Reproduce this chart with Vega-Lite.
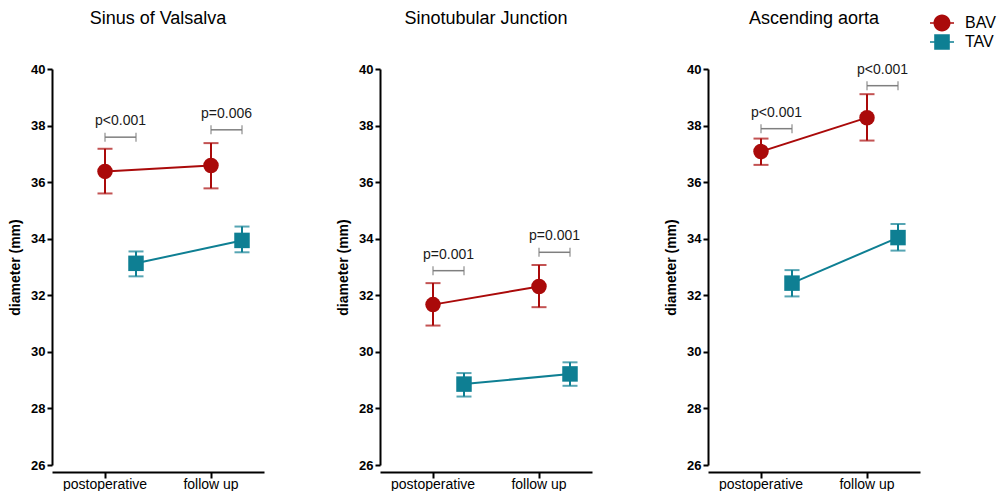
{
  "$schema": "https://vega.github.io/schema/vega-lite/v6.json",
  "background": "white",
  "padding": {"left": 8, "top": 10, "right": 5, "bottom": 0},
  "data": {"values": [
    {"panel": "Sinus of Valsalva", "kind": "stat", "time": "postoperative", "group": "BAV", "mean": 36.38, "lo": 35.6, "hi": 37.18},
    {"panel": "Sinus of Valsalva", "kind": "stat", "time": "follow up", "group": "BAV", "mean": 36.59, "lo": 35.78, "hi": 37.38},
    {"panel": "Sinus of Valsalva", "kind": "stat", "time": "postoperative", "group": "TAV", "mean": 33.13, "lo": 32.67, "hi": 33.55},
    {"panel": "Sinus of Valsalva", "kind": "stat", "time": "follow up", "group": "TAV", "mean": 33.94, "lo": 33.52, "hi": 34.43},
    {"panel": "Sinus of Valsalva", "kind": "bracket", "cmp": "a", "time": "postoperative", "group": "BAV", "y": 37.59},
    {"panel": "Sinus of Valsalva", "kind": "bracket", "cmp": "a", "time": "postoperative", "group": "TAV", "y": 37.59},
    {"panel": "Sinus of Valsalva", "kind": "bracket", "cmp": "b", "time": "follow up", "group": "BAV", "y": 37.85},
    {"panel": "Sinus of Valsalva", "kind": "bracket", "cmp": "b", "time": "follow up", "group": "TAV", "y": 37.85},
    {"panel": "Sinus of Valsalva", "kind": "label", "time": "postoperative", "group": "mid", "y": 37.59, "label": "p<0.001"},
    {"panel": "Sinus of Valsalva", "kind": "label", "time": "follow up", "group": "mid", "y": 37.85, "label": "p=0.006"},

    {"panel": "Sinotubular Junction", "kind": "stat", "time": "postoperative", "group": "BAV", "mean": 31.67, "lo": 30.93, "hi": 32.43},
    {"panel": "Sinotubular Junction", "kind": "stat", "time": "follow up", "group": "BAV", "mean": 32.31, "lo": 31.58, "hi": 33.07},
    {"panel": "Sinotubular Junction", "kind": "stat", "time": "postoperative", "group": "TAV", "mean": 28.86, "lo": 28.42, "hi": 29.25},
    {"panel": "Sinotubular Junction", "kind": "stat", "time": "follow up", "group": "TAV", "mean": 29.22, "lo": 28.8, "hi": 29.63},
    {"panel": "Sinotubular Junction", "kind": "bracket", "cmp": "a", "time": "postoperative", "group": "BAV", "y": 32.87},
    {"panel": "Sinotubular Junction", "kind": "bracket", "cmp": "a", "time": "postoperative", "group": "TAV", "y": 32.87},
    {"panel": "Sinotubular Junction", "kind": "bracket", "cmp": "b", "time": "follow up", "group": "BAV", "y": 33.52},
    {"panel": "Sinotubular Junction", "kind": "bracket", "cmp": "b", "time": "follow up", "group": "TAV", "y": 33.52},
    {"panel": "Sinotubular Junction", "kind": "label", "time": "postoperative", "group": "mid", "y": 32.87, "label": "p=0.001"},
    {"panel": "Sinotubular Junction", "kind": "label", "time": "follow up", "group": "mid", "y": 33.52, "label": "p=0.001"},

    {"panel": "Ascending aorta", "kind": "stat", "time": "postoperative", "group": "BAV", "mean": 37.08, "lo": 36.61, "hi": 37.54},
    {"panel": "Ascending aorta", "kind": "stat", "time": "follow up", "group": "BAV", "mean": 38.28, "lo": 37.47, "hi": 39.11},
    {"panel": "Ascending aorta", "kind": "stat", "time": "postoperative", "group": "TAV", "mean": 32.43, "lo": 31.96, "hi": 32.89},
    {"panel": "Ascending aorta", "kind": "stat", "time": "follow up", "group": "TAV", "mean": 34.04, "lo": 33.58, "hi": 34.52},
    {"panel": "Ascending aorta", "kind": "bracket", "cmp": "a", "time": "postoperative", "group": "BAV", "y": 37.89},
    {"panel": "Ascending aorta", "kind": "bracket", "cmp": "a", "time": "postoperative", "group": "TAV", "y": 37.89},
    {"panel": "Ascending aorta", "kind": "bracket", "cmp": "b", "time": "follow up", "group": "BAV", "y": 39.41},
    {"panel": "Ascending aorta", "kind": "bracket", "cmp": "b", "time": "follow up", "group": "TAV", "y": 39.41},
    {"panel": "Ascending aorta", "kind": "label", "time": "postoperative", "group": "mid", "y": 37.89, "label": "p<0.001"},
    {"panel": "Ascending aorta", "kind": "label", "time": "follow up", "group": "mid", "y": 39.41, "label": "p<0.001"}
  ]},
  "facet": {
    "column": {
      "field": "panel", "type": "nominal",
      "sort": ["Sinus of Valsalva", "Sinotubular Junction", "Ascending aorta"],
      "title": null,
      "header": {"labelFontSize": 18, "labelFont": "Liberation Sans", "labelColor": "black", "labelPadding": 34}
    }
  },
  "spacing": 72,
  "resolve": {"scale": {"y": "independent"}},
  "spec": {
    "width": 212,
    "height": 396,
    "encoding": {
      "x": {"field": "time", "type": "nominal", "sort": ["postoperative", "follow up"],
        "scale": {"paddingInner": 0, "paddingOuter": 0},
        "axis": {"title": null, "labelAngle": 0, "labelFontSize": 14, "tickSize": 6, "labelPadding": -1}},
      "xOffset": {"field": "group", "type": "nominal",
        "scale": {"type": "point", "domain": ["BAV", "mid", "TAV"], "range": [53, 84], "padding": 0}},
      "color": {"field": "group", "type": "nominal", "scale": {"domain": ["BAV", "TAV"], "range": ["#aa0a0a", "#0e7f93"]},
        "legend": {"orient": "none", "legendX": 880, "legendY": -56}}
    },
    "layer": [
      {
        "transform": [{"filter": "datum.kind === 'bracket'"}],
        "mark": {"type": "line", "color": "#7f7f7f", "strokeWidth": 1.5},
        "encoding": {
          "y": {"field": "y", "type": "quantitative", "scale": {"domain": [26, 40]}, "title": "diameter (mm)", "axis": {"values": [26, 28, 30, 32, 34, 36, 38, 40]}},
          "color": {"value": "#7f7f7f"},
          "detail": {"field": "cmp"}
        }
      },
      {
        "transform": [{"filter": "datum.kind === 'bracket'"}],
        "mark": {"type": "tick", "orient": "vertical", "size": 9, "thickness": 1.5},
        "encoding": {
          "y": {"field": "y", "type": "quantitative", "scale": {"domain": [26, 40]}, "title": "diameter (mm)", "axis": {"values": [26, 28, 30, 32, 34, 36, 38, 40]}},
          "color": {"value": "#7f7f7f"}
        }
      },
      {
        "transform": [{"filter": "datum.kind === 'label'"}],
        "mark": {"type": "text", "fontSize": 14, "font": "Liberation Sans", "baseline": "middle", "dy": -16},
        "encoding": {
          "y": {"field": "y", "type": "quantitative", "scale": {"domain": [26, 40]}, "title": "diameter (mm)", "axis": {"values": [26, 28, 30, 32, 34, 36, 38, 40]}},
          "color": {"value": "#1a1a1a"},
          "text": {"field": "label"}
        }
      },
      {
        "transform": [{"filter": "datum.kind === 'stat'"}],
        "mark": {"type": "rule", "strokeWidth": 2},
        "encoding": {
          "y": {"field": "lo", "type": "quantitative", "scale": {"domain": [26, 40]}, "title": "diameter (mm)", "axis": {"values": [26, 28, 30, 32, 34, 36, 38, 40]}},
          "y2": {"field": "hi"}
        }
      },
      {
        "transform": [{"filter": "datum.kind === 'stat'"}],
        "mark": {"type": "tick", "orient": "horizontal", "size": 15, "thickness": 2},
        "encoding": {
          "y": {"field": "lo", "type": "quantitative", "scale": {"domain": [26, 40]}, "title": "diameter (mm)", "axis": {"values": [26, 28, 30, 32, 34, 36, 38, 40]}}
        }
      },
      {
        "transform": [{"filter": "datum.kind === 'stat'"}],
        "mark": {"type": "tick", "orient": "horizontal", "size": 15, "thickness": 2},
        "encoding": {
          "y": {"field": "hi", "type": "quantitative", "scale": {"domain": [26, 40]}, "title": "diameter (mm)", "axis": {"values": [26, 28, 30, 32, 34, 36, 38, 40]}}
        }
      },
      {
        "transform": [{"filter": "datum.kind === 'stat'"}],
        "mark": {"type": "line", "strokeWidth": 2},
        "encoding": {
          "y": {"field": "mean", "type": "quantitative", "scale": {"domain": [26, 40]}, "title": "diameter (mm)", "axis": {"values": [26, 28, 30, 32, 34, 36, 38, 40]}}
        }
      },
      {
        "transform": [{"filter": "datum.kind === 'stat' && datum.group === 'BAV'"}],
        "mark": {"type": "point", "filled": true, "size": 240, "opacity": 1, "shape": "circle"},
        "encoding": {
          "y": {"field": "mean", "type": "quantitative", "scale": {"domain": [26, 40]}, "title": "diameter (mm)", "axis": {"values": [26, 28, 30, 32, 34, 36, 38, 40]}}
        }
      },
      {
        "transform": [{"filter": "datum.kind === 'stat' && datum.group === 'TAV'"}],
        "mark": {"type": "point", "filled": true, "size": 240, "opacity": 1, "shape": "square"},
        "encoding": {
          "y": {"field": "mean", "type": "quantitative", "scale": {"domain": [26, 40]}, "title": "diameter (mm)", "axis": {"values": [26, 28, 30, 32, 34, 36, 38, 40]}}
        }
      },
      {
        "transform": [{"filter": "datum.kind === 'none'"}],
        "mark": {"type": "point", "filled": true, "opacity": 1},
        "encoding": {
          "y": {"field": "mean", "type": "quantitative", "scale": {"domain": [26, 40]}, "title": "diameter (mm)", "axis": {"values": [26, 28, 30, 32, 34, 36, 38, 40]}},
          "shape": {"field": "group", "type": "nominal",
            "scale": {"domain": ["BAV", "TAV"], "range": [
              "M-1.2,-0.08H1.2V0.08H-1.2Z M-0.85,0A0.85,0.85 0 1,1 0.85,0A0.85,0.85 0 1,1 -0.85,0Z",
              "M-1.2,-0.08H1.2V0.08H-1.2Z M-0.78,-0.78H0.78V0.78H-0.78Z"]},
            "legend": {"orient": "none", "legendX": 880, "legendY": -56}}
        }
      }
    ]
  },
  "config": {
    "view": {"stroke": null},
    "font": "Liberation Sans",
    "legend": {"title": null, "labelFontSize": 16, "labelFont": "Liberation Sans", "labelColor": "black", "symbolSize": 400, "rowPadding": 0, "symbolStrokeWidth": 0, "symbolOpacity": 1, "labelOffset": 13},
    "axis": {"grid": false, "domainColor": "black", "domainWidth": 2, "tickColor": "black", "tickWidth": 2, "labelColor": "black", "titleColor": "black", "labelFont": "Liberation Sans", "titleFont": "Liberation Sans"},
    "axisY": {"tickSize": 5, "labelFontSize": 13, "labelFontWeight": "bold", "titleFontSize": 14, "titleFontWeight": "bold", "titlePadding": 8, "labelPadding": 2}
  }
}
